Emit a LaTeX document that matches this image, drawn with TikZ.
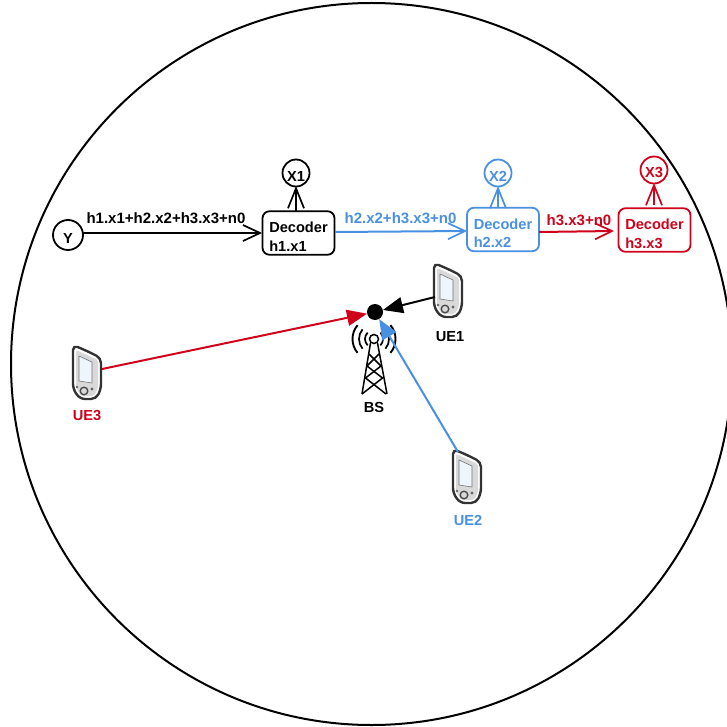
\documentclass[tikz,border=0pt]{standalone}
\usepackage{fontspec}
\setmainfont{Liberation Sans}
\usetikzlibrary{arrows.meta}
\definecolor{myblue}{HTML}{4A90E2}
\definecolor{myred}{HTML}{D0021B}
\newcommand{\lowtext}[2]{\raisebox{-#1pt}[0pt][0pt]{#2}}
\tikzset{
  lab/.style={font=\fontsize{15}{17}\selectfont\bfseries,inner sep=0pt},
  small/.style={font=\fontsize{14.6}{17}\selectfont\bfseries,inner sep=0pt},
  dec/.style={draw=#1,text=#1,line width=1.8pt,rounded corners=7pt,minimum width=72pt,minimum height=43.5pt,inner sep=0pt},
  out/.style={draw=#1,text=#1,line width=1.8pt,circle,minimum size=27pt,inner sep=0pt},
  barb/.style={-{Straight Barb[length=17pt,width=16pt,line width=1.7pt]},line width=2pt},
  upbarb/.style={-{Straight Barb[length=20pt,width=16pt,line width=1.7pt]},line width=2pt},
  solid tip/.style={-{Triangle[length=20pt,width=16pt]},line width=2pt},
  phoneslot/.style={minimum width=28pt,minimum height=55pt,inner sep=0pt},
  pics/phone/.style={code={
    \draw[line width=2.4pt,fill=white,draw=black!80,rounded corners=5pt]
      (14,6) -- (28,13) -- (28,44) -- (23,54) -- (7,54) -- (0,44) -- (0,0) -- cycle;
    \fill[gray!30,rounded corners=2pt] (3,5) -- (25,15) -- (25,43) -- (21,51) -- (8,51) -- (3,42) -- cycle;
    \fill[white!85!myblue!60!white,draw=black!55,line width=.6pt] (6,11) -- (19,17) -- (19,38) -- (6,36) -- cycle;
    \draw[black!70,line width=1.4pt,fill=gray!30] (11,46) circle (3.8pt);
    \fill[black!60] (4,42) circle (1.3pt) (19,44) circle (1.7pt);
  }}
}
\begin{document}
\begin{tikzpicture}[x=1pt,y=-1pt]
\useasboundingbox (0,0) rectangle (726,727);
\draw[line width=2pt] (371.5,364) ellipse (360.5pt and 361pt);

% decoder chain
\node[out=black,circle,minimum size=30pt,small] (y) at (68,235) {\lowtext{8.5}{Y}};
\node[dec=black,align=left,small] (d1) at (298.5,233) {\rule{0pt}{18pt}Decoder\hspace{2pt}\\[1.5pt]h1.x1};
\node[dec=myblue,align=left,small] (d2) at (503,229.5) {\rule{0pt}{18pt}Decoder\\[1.5pt]h2.x2};
\node[dec=myred,align=left,small] (d3) at (654.5,230) {\rule{0pt}{18pt}Decoder\\[1.5pt]h3.x3};
\node[out=black,small] (x1) at (296,173) {\lowtext{9}{X1}};
\node[out=myblue,small] (x2) at (498,173) {\lowtext{9}{X2}};
\node[out=myred,small] (x3) at (654,170) {\lowtext{7.5}{X3}};

\coordinate (d1in) at (262,233);
\coordinate (d1out) at (335,232);
\coordinate (d2in) at (467,231);
\coordinate (d2out) at (539,232);
\coordinate (d3in) at (614,231);
\coordinate (d1top) at (296,211);
\coordinate (d2top) at (498,208);
\coordinate (d3top) at (654,205);
\coordinate (x1low) at (296,186);
\coordinate (x2low) at (498,186);
\coordinate (x3low) at (654,183);
\coordinate (yport) at (83,233);

\draw[barb] (yport) -- (d1in);
\draw[barb,myblue] (d1out) -- (d2in);
\draw[barb,myred] (d2out) -- (d3in);
\draw[upbarb] (d1top) -- (x1low);
\draw[upbarb,myblue] (d2top) -- (x2low);
\draw[upbarb,myred] (d3top) -- (x3low);

\node[lab] (l1) at (166,218) {h1.x1+h2.x2+h3.x3+n0};
\node[lab,text=myblue] (l2) at (400.5,218) {h2.x2+h3.x3+n0};
\node[lab,text=myred] (l3) at (579,220) {h3.x3+n0};

% base station
\begin{scope}[line width=1.5pt]
  \draw (374,339) circle (4.5pt);
  \draw (370.5,343) -- (362,394) (377.5,343) -- (387,394);
  \draw (369,354) -- (381,366) -- (365.5,378) -- (386,394);
  \draw (379,354) -- (367,366) -- (382.5,378) -- (362,394);
  \draw[line width=1.7pt] (374,339) ++(135:9) arc (135:225:9) (374,339) ++(45:9) arc (45:-45:9);
  \draw[line width=1.7pt] (374,339) ++(140:15) arc (140:220:15) (374,339) ++(40:15) arc (40:-40:15);
  \draw[line width=1.9pt] (374,339) ++(140:21.5) arc (140:220:21.5) (374,339) ++(40:21.5) arc (40:-40:21.5);
\end{scope}
\node[circle,fill=black,minimum size=16pt,inner sep=0pt] (bs) at (375,312) {};
\node[small] (bslabel) at (374,407) {BS};

% phones
\node[phoneslot] (ue1) at (448,291) {};
\pic at (434,263) {phone};
\node[phoneslot] (ue2) at (467,476) {};
\pic at (453,449) {phone};
\node[phoneslot] (ue3) at (87,372) {};
\pic at (73,345) {phone};
\node[small] (ue1label) at (450,337) {UE1};
\node[small,text=myblue] (ue2label) at (468,520) {UE2};
\node[small,text=myred] (ue3label) at (87,415) {UE3};

\coordinate (ue1port) at (435,297);
\coordinate (ue2port) at (458,452);
\coordinate (ue3port) at (102,369);
\draw[solid tip] (ue1port) -- (bs);
\draw[solid tip,myblue] (ue2port) -- (bs);
\draw[solid tip,myred] (ue3port) -- (bs);
\end{tikzpicture}
\end{document}
